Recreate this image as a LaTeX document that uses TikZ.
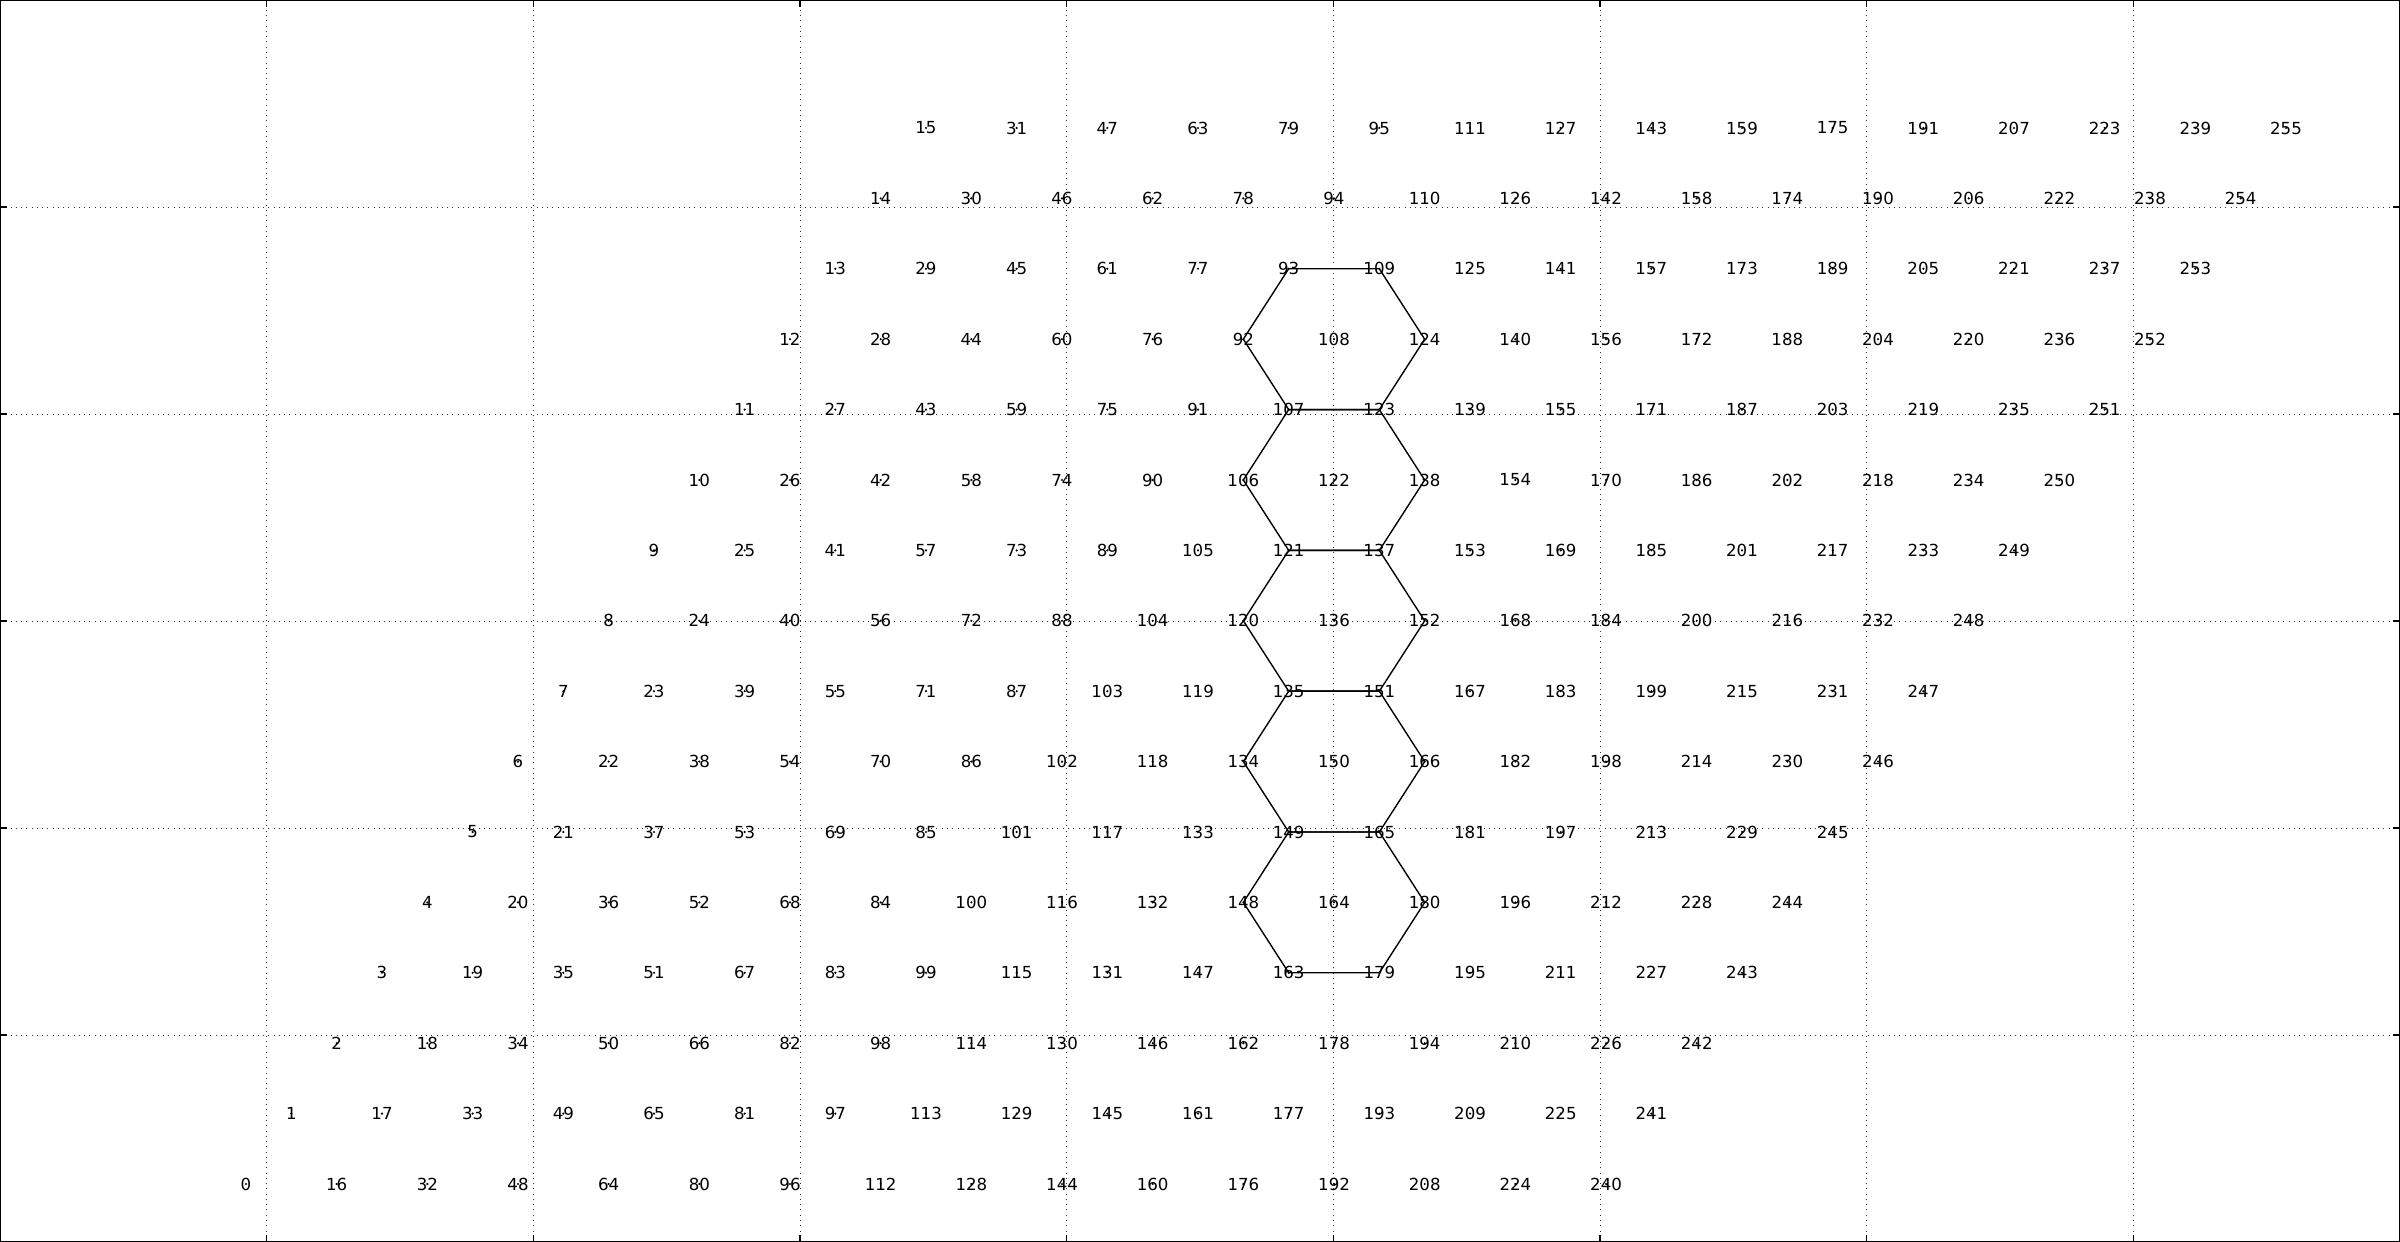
\documentclass[tikz,border=0pt]{standalone}
\usepackage{fontspec}
\setmainfont{DejaVu Sans}

\begin{document}
\begin{tikzpicture}[
  x=0.01in, y=0.01in,
  lbl/.style={font=\fontsize{12}{14}\selectfont, inner sep=0pt, anchor=center},
  gridline/.style={black!80, line width=0.5pt, dash pattern=on 0.7pt off 3.1pt},
  hexline/.style={line width=1pt, line join=round},
  tickline/.style={line width=0.8pt},
  frameline/.style={line width=1pt}
]
  \useasboundingbox (0,0) rectangle (2400,1242);

  % Grid
  \foreach \k in {1,...,8}
    \draw[gridline] ({266.67*\k},0) -- ({266.67*\k},1242);
  \foreach \k in {1,...,5}
    \draw[gridline] (0,{207*\k}) -- (2400,{207*\k});

  % Lattice points with their numbers
  \foreach \i in {0,...,15}
    \foreach \j in {0,...,15} {
      \pgfmathtruncatemacro\n{16*\i+\j}
      \coordinate (p\n) at ({246+90.67*\i+45.33*\j},{58+70.4*\j});
      \node[lbl] (n\n) at (p\n) {\n};
      \fill (p\n) circle (1.2);
    }

  % Hexagons
  \foreach \c in {108,122,136,150,164} {
    \pgfmathtruncatemacro\va{\c+1}
    \pgfmathtruncatemacro\vb{\c+16}
    \pgfmathtruncatemacro\vc{\c+15}
    \pgfmathtruncatemacro\vd{\c-1}
    \pgfmathtruncatemacro\ve{\c-16}
    \pgfmathtruncatemacro\vf{\c-15}
    \draw[hexline] (p\va) -- (p\vb) -- (p\vc) -- (p\vd) -- (p\ve) -- (p\vf) -- cycle;
  }

  % Ticks and frame
  \foreach \k in {1,...,8} {
    \draw[tickline] ({266.67*\k},0) -- ({266.67*\k},7);
    \draw[tickline] ({266.67*\k},1242) -- ({266.67*\k},1235);
  }
  \foreach \k in {1,...,5} {
    \draw[tickline] (0,{207*\k}) -- (7,{207*\k});
    \draw[tickline] (2400,{207*\k}) -- (2393,{207*\k});
  }
  \draw[frameline] (0,0) rectangle (2400,1242);
\end{tikzpicture}
\end{document}
